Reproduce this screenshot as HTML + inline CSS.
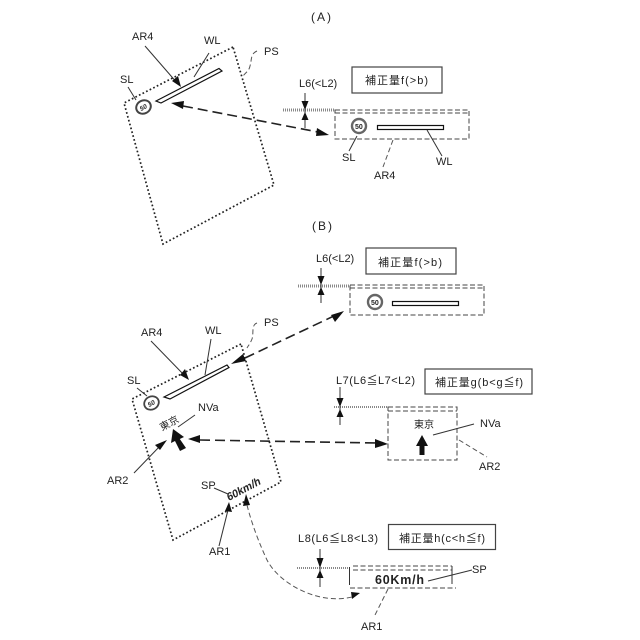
<!DOCTYPE html>
<html><head><meta charset="utf-8"><style>
html,body{margin:0;padding:0;background:#fff}
svg{display:block}
text{font-family:"Liberation Sans","Noto Sans CJK JP",sans-serif;font-size:11px;fill:#222}
.l{stroke:#333;stroke-width:1;fill:none}
.ps{stroke:#222;stroke-width:1.7;stroke-dasharray:1.7 2.3;fill:none}
.d{stroke:#444;stroke-width:1;stroke-dasharray:5 2.500;fill:none}
.dd{stroke:#222;stroke-width:1.6;stroke-dasharray:10 5;fill:none}
.t{stroke:#555;stroke-width:1;stroke-dasharray:5 3;fill:none}
.dot{stroke:#888;stroke-width:3;stroke-dasharray:1 1;fill:none}
.b{stroke:#111;stroke-width:1.2;fill:#fff}
.h{fill:#111;stroke:none}
</style></head><body>
<svg width="640" height="640" viewBox="0 0 640 640" xmlns="http://www.w3.org/2000/svg">
<text x="311" y="21" style="font-size:12px" textLength="20" lengthAdjust="spacing">(A)</text>
<text x="312" y="230" style="font-size:12px" textLength="20" lengthAdjust="spacing">(B)</text>

<!-- A left -->
<polygon class="ps" points="233,47 124,103 163,244 274,185"/>
<polygon points="156,101 219,68.500 222,71 161,103" fill="#fff" stroke="#111" stroke-width="1.2"/>
<ellipse cx="143.500" cy="107" rx="7.500" ry="6.500" transform="rotate(-28 143.500 107)" fill="#fff" stroke="#444" stroke-width="2"/>
<text x="139.500" y="109.500" transform="rotate(-28 143.500 107)" style="font-size:6.500px;font-style:italic;font-weight:bold">50</text>
<text x="132" y="40">AR4</text>
<text x="204" y="44">WL</text>
<text x="120" y="83">SL</text>
<text x="264" y="55">PS</text>
<line class="l" x1="145" y1="46" x2="178" y2="84"/>
<polygon class="h" points="181,87 172,81 178,76"/>
<line class="l" x1="209" y1="53" x2="194" y2="77"/>
<line class="l" x1="128" y1="87" x2="136" y2="100"/>
<path class="t" d="M257,51 C250,54 252,60 250,66 C249,72 243,74 243,77"/>
<line class="dd" x1="183" y1="106" x2="318" y2="132"/>
<polygon class="h" points="171,103 184,101 183,109"/>
<polygon class="h" points="329,135 317,128 316,136"/>

<!-- A right -->
<rect x="352" y="67" width="90" height="26" fill="none" stroke="#444" stroke-width="1.2"/>
<text x="365" y="84" textLength="63" lengthAdjust="spacing">補正量f(&gt;b)</text>
<text x="299" y="87">L6(&lt;L2)</text>
<line class="dot" x1="283" y1="110" x2="335" y2="110"/>
<rect class="d" x="335" y="110" width="134" height="29"/>
<line class="d" x1="335" y1="113" x2="469" y2="113"/>
<line class="l" x1="305" y1="93" x2="305" y2="128"/>
<polygon class="h" points="305,110 301.500,101 308.500,101"/>
<polygon class="h" points="305,112 301.500,120 308.500,120"/>
<circle cx="359" cy="126" r="7" fill="#fff" stroke="#666" stroke-width="2.400"/>
<text x="355" y="129" style="font-size:7px;font-weight:bold">50</text>
<rect class="b" x="377.500" y="125.500" width="66" height="4"/>
<line class="l" x1="357" y1="136" x2="349" y2="151"/>
<line class="l" x1="427" y1="130" x2="442" y2="156"/>
<line class="t" x1="393" y1="140" x2="383" y2="167"/>
<text x="342" y="161">SL</text>
<text x="436" y="165">WL</text>
<text x="374" y="179">AR4</text>

<!-- B left -->
<polygon class="ps" points="241,344 132,399 173,540 281,482"/>
<polygon points="164,397 227,365 229,367.500 170,399" fill="#fff" stroke="#111" stroke-width="1.2"/>
<ellipse cx="151.500" cy="403" rx="7.500" ry="6.500" transform="rotate(-28 151.500 403)" fill="#fff" stroke="#444" stroke-width="1.8"/>
<text x="147.500" y="405.500" transform="rotate(-28 151.500 403)" style="font-size:6.500px;font-style:italic;font-weight:bold">50</text>
<text x="141" y="336">AR4</text>
<text x="205" y="334">WL</text>
<text x="127" y="384">SL</text>
<text x="264" y="326">PS</text>
<line class="l" x1="151" y1="341" x2="186" y2="377"/>
<polygon class="h" points="189,380 180,375 185,369"/>
<line class="l" x1="211" y1="339" x2="205" y2="375"/>
<line class="l" x1="137" y1="388" x2="147" y2="396"/>
<path class="t" d="M257,323 C251,325 254,333 252,339 C250,344 248,346 247,348"/>
<line class="dd" x1="245" y1="358" x2="336" y2="315"/>
<polygon class="h" points="231,364 243,354 246,361"/>
<polygon class="h" points="344,311 331,315 335,322"/>
<text x="162" y="431" transform="rotate(-28 162 431)" style="font-size:10px">東京</text>
<text x="198" y="411">NVa</text>
<line class="l" x1="195" y1="415" x2="178" y2="427"/>
<polygon class="h" points="173,429 184,437 179.800,439 186,448 180,451 175,441 171,443"/>
<text x="107" y="484">AR2</text>
<line class="l" x1="134" y1="473" x2="160" y2="446"/>
<polygon class="h" points="167,440 160,450 155,445"/>
<line class="dd" x1="200" y1="440" x2="378" y2="443"/>
<polygon class="h" points="188,439 200,435 200,443"/>
<polygon class="h" points="388,444 375,439 375,448"/>
<text x="201" y="489">SP</text>
<line class="l" x1="214" y1="488" x2="228" y2="494"/>
<text x="229" y="501" transform="rotate(-28 229 501)" style="font-size:11px;font-style:italic;font-weight:bold" textLength="37" lengthAdjust="spacingAndGlyphs">60km/h</text>
<text x="209" y="555">AR1</text>
<line class="l" x1="219" y1="546" x2="228" y2="510"/>
<polygon class="h" points="229,502 232,512 225,511"/>
<polygon class="h" points="246,494 250,505 243,506"/>
<path class="t" d="M247,505 C252,525 260,545 267,560 C280,585 320,605 352,597"/>
<polygon class="h" points="360,593 351,592 352,599"/>

<!-- B right top -->
<rect x="366" y="248" width="90" height="26" fill="none" stroke="#444" stroke-width="1.2"/>
<text x="378" y="266" textLength="64" lengthAdjust="spacing">補正量f(&gt;b)</text>
<text x="316" y="262">L6(&lt;L2)</text>
<line class="dot" x1="298" y1="286" x2="350" y2="286"/>
<rect class="d" x="350" y="285" width="134" height="30"/>
<line class="d" x1="350" y1="288" x2="484" y2="288"/>
<line class="l" x1="321" y1="268" x2="321" y2="303"/>
<polygon class="h" points="321,285 317.500,276 324.500,276"/>
<polygon class="h" points="321,287 317.500,295 324.500,295"/>
<circle cx="375" cy="302" r="7" fill="#fff" stroke="#666" stroke-width="2.400"/>
<text x="371" y="305" style="font-size:7px;font-weight:bold">50</text>
<rect class="b" x="392.500" y="301.500" width="66" height="4"/>

<!-- B right mid -->
<rect x="425" y="369" width="107" height="25" fill="none" stroke="#444" stroke-width="1.2"/>
<text x="435" y="386" textLength="88" lengthAdjust="spacing">補正量g(b&lt;g≦f)</text>
<text x="336" y="384" textLength="79" lengthAdjust="spacing">L7(L6≦L7&lt;L2)</text>
<line class="dot" x1="334" y1="407" x2="388" y2="407" style="stroke-width:2"/>
<rect class="d" x="388" y="407" width="69" height="53"/>
<line class="d" x1="388" y1="411" x2="457" y2="411"/>
<line class="l" x1="340" y1="387" x2="340" y2="425"/>
<polygon class="h" points="340,407 336.500,398 343.500,398"/>
<polygon class="h" points="340,409 336.500,417 343.500,417"/>
<text x="414" y="428" style="font-size:10px">東京</text>
<polygon class="h" points="422,435 428,446 424.500,446 424.500,455 419.500,455 419.500,446 416,446"/>
<line class="l" x1="433" y1="435" x2="474" y2="424"/>
<text x="480" y="427">NVa</text>
<line class="t" x1="459" y1="440" x2="487" y2="457"/>
<text x="479" y="470">AR2</text>

<!-- B right bottom -->
<rect x="388.500" y="524.500" width="107" height="25" fill="none" stroke="#444" stroke-width="1.2"/>
<text x="399" y="542" textLength="86" lengthAdjust="spacing">補正量h(c&lt;h≦f)</text>
<text x="298" y="542" textLength="80" lengthAdjust="spacing">L8(L6≦L8&lt;L3)</text>
<line class="dot" x1="297" y1="568" x2="349" y2="568" style="stroke-width:2"/>
<line class="l" x1="349.500" y1="567" x2="349.500" y2="585"/>
<line class="l" x1="452" y1="566" x2="452" y2="584"/>
<line class="d" x1="353" y1="566" x2="452" y2="566"/>
<line class="d" x1="353" y1="570" x2="452" y2="570"/>
<line class="d" x1="350" y1="588" x2="456" y2="588"/>
<line class="l" x1="320" y1="549" x2="320" y2="587"/>
<polygon class="h" points="320,568 316.500,558 323.500,558"/>
<polygon class="h" points="320,570 316.500,578 323.500,578"/>
<text x="375" y="584" style="font-size:12.500px;font-weight:bold" textLength="49" lengthAdjust="spacing">60Km/h</text>
<line class="l" x1="428" y1="581" x2="472" y2="570"/>
<text x="472" y="573">SP</text>
<line class="t" x1="388" y1="589" x2="374" y2="617"/>
<text x="361" y="630">AR1</text>
</svg>
</body></html>
